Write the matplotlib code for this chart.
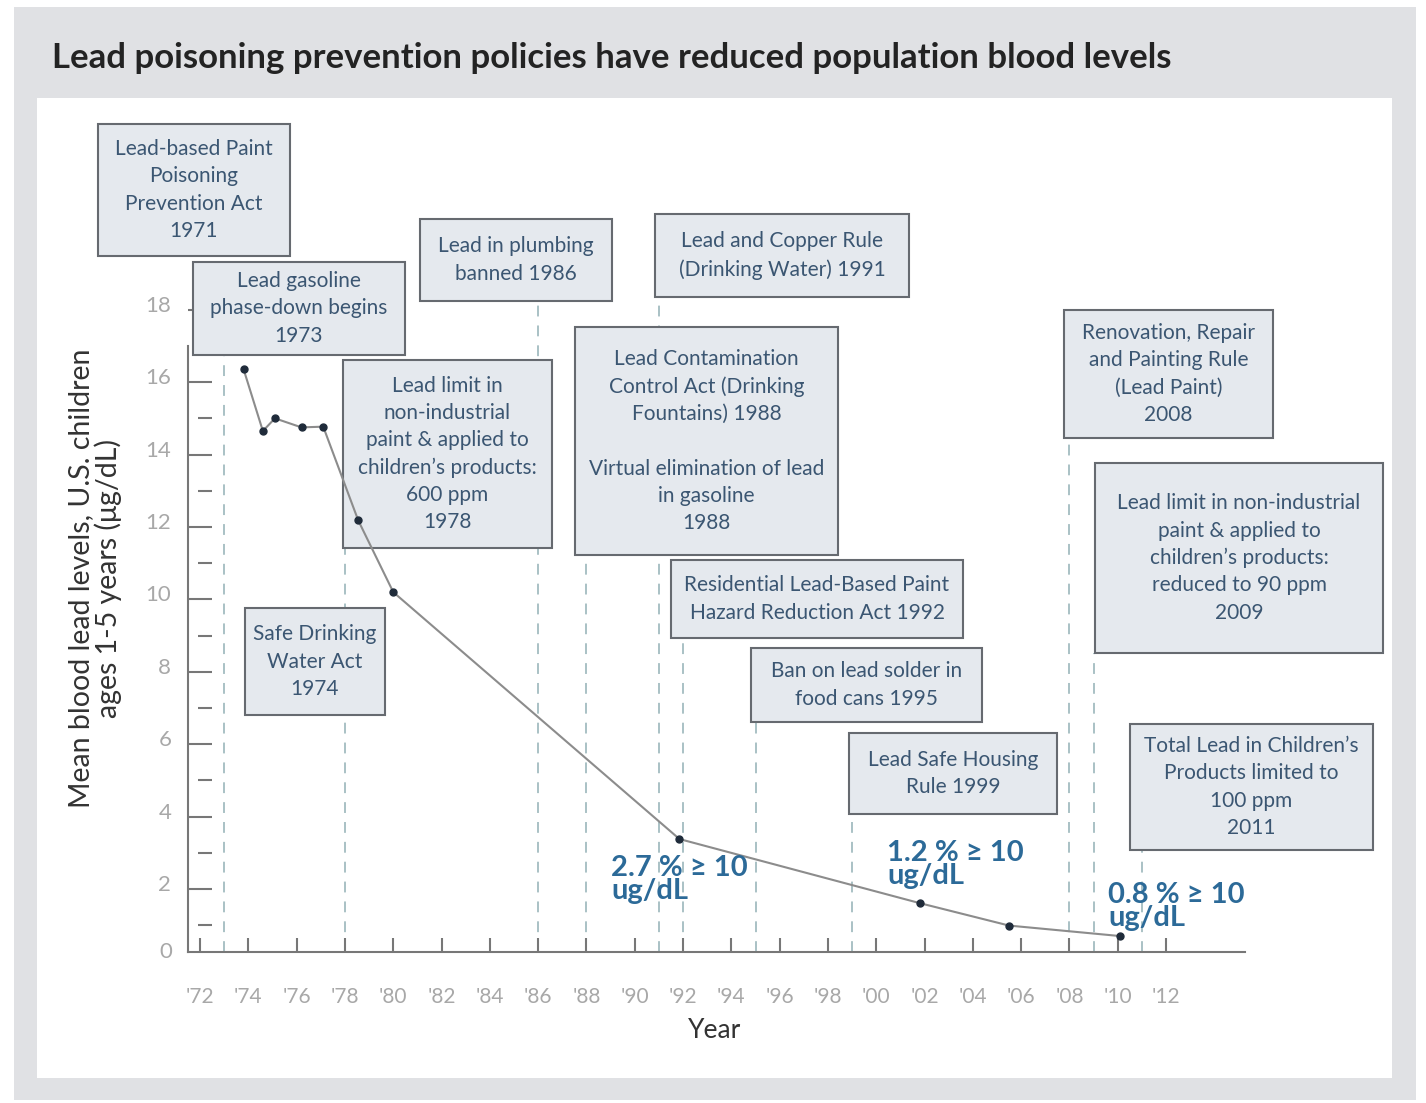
import matplotlib
matplotlib.use('Agg')
import matplotlib.pyplot as plt
from matplotlib.patches import Rectangle
from matplotlib.transforms import ScaledTranslation, blended_transform_factory

W, H = 1426, 1103

# mean blood lead survey points
years = [1973.8, 1974.6, 1975.1, 1976.2, 1977.1, 1978.55, 1980.0, 1991.85, 2001.8, 2005.5, 2010.1]
blood_lead = [16.36, 14.65, 15.0, 14.75, 14.77, 12.18, 10.2, 3.38, 1.61, 0.99, 0.70]

# share of children >= 10 ug/dL
pct_labels = ['2.7 % \u2265 10\nug/dL', '1.2 % \u2265 10\nug/dL', '0.8 % \u2265 10\nug/dL']

policy_text = [
    "Lead-based Paint\nPoisoning\nPrevention Act\n1971",
    "Lead gasoline\nphase-down begins\n1973",
    "Safe Drinking\nWater Act\n1974",
    "Lead limit in\nnon-industrial\npaint & applied to\nchildren\u2019s products:\n600 ppm\n1978",
    "Lead in plumbing\nbanned 1986",
    "Lead Contamination\nControl Act (Drinking\nFountains) 1988\n\nVirtual elimination of lead\nin gasoline\n1988",
    "Lead and Copper Rule\n(Drinking Water) 1991",
    "Residential Lead-Based Paint\nHazard Reduction Act 1992",
    "Ban on lead solder in\nfood cans 1995",
    "Lead Safe Housing\nRule 1999",
    "Renovation, Repair\nand Painting Rule\n(Lead Paint)\n2008",
    "Lead limit in non-industrial\npaint & applied to\nchildren\u2019s products:\nreduced to 90 ppm\n2009",
    "Total Lead in Children\u2019s\nProducts limited to\n100 ppm\n2011",
]
policy_year = [None, 1973, None, 1978, 1986, 1988, 1991, 1992, 1995, 1999, 2008, 2009, 2011]

x_ticks = list(range(1972, 2013, 2))
y_ticks = list(range(2, 19, 2))

# layout, in pixels of the picture (left, top, right, bottom)
box_px = [(98, 124, 290, 256), (193, 262, 405, 355), (245, 608, 385, 715),
          (343, 360, 552, 548), (420, 219, 612, 301), (575, 327, 838, 555),
          (655, 214, 909, 297), (671, 560, 963, 638), (751, 648, 982, 722),
          (849, 733, 1057, 814), (1064, 310, 1273, 438), (1095, 463, 1383, 653),
          (1130, 724, 1373, 850)]
pct_px = [(611, 855), (887, 840), (1108, 882)]

plt.rcParams['font.family'] = ['Lato', 'DejaVu Sans']

fig = plt.figure(figsize=(W / 100, H / 100), dpi=100)
fig.patch.set_facecolor('white')

def fx(x):
    return x / W

def fy(y):
    return 1 - y / H

# grey card and white panel
fig.patches.append(Rectangle((fx(14), fy(1100)), fx(1416 - 14), (1100 - 7) / H,
                             transform=fig.transFigure, facecolor='#e0e1e4',
                             edgecolor='none', zorder=-10))
fig.patches.append(Rectangle((fx(37), fy(1078)), fx(1392 - 37), (1078 - 98) / H,
                             transform=fig.transFigure, facecolor='white',
                             edgecolor='none', zorder=-9))

fig.text(fx(52), fy(58), 'Lead poisoning prevention policies have reduced population blood levels',
         fontsize=25, fontweight='bold', color='#232323', va='center', ha='left')

ax = fig.add_axes([fx(188), fy(952), fx(1245 - 188), (952 - 288) / H])
ax.set_facecolor('none')
ax.set_xlim(1971.5, 2015.27)
ax.set_ylim(0.26, 18.6)

for s in ['top', 'right']:
    ax.spines[s].set_visible(False)
ax.spines['left'].set_bounds(0.26, 17.0)
for s in ['left', 'bottom']:
    ax.spines[s].set_color('#777777')
    ax.spines[s].set_linewidth(1.5)

ax.set_xticks(x_ticks)
ax.set_xticklabels(["'%02d" % (y % 100) for y in x_ticks])
ax.set_yticks(y_ticks)
ax.tick_params(axis='y', direction='in', length=17, width=1.5, color='#777777',
               labelcolor='#a8a8a8', labelsize=16, pad=12)
ax.tick_params(axis='x', direction='in', length=10, width=1.5, color='#777777',
               labelcolor='#a8a8a8', labelsize=15, pad=25)
for lab in ax.get_yticklabels():
    lab.set_transform(lab.get_transform() + ScaledTranslation(0, 6 / 100, fig.dpi_scale_trans))
ax.text(-16 / 1057, 0.26, '0', transform=blended_transform_factory(ax.transAxes, ax.transData),
        ha='right', va='center', fontsize=16, color='#a8a8a8')

# detached minor dashes at odd values
odd = list(range(1, 18, 2))
ax.hlines(odd, 10 / 1057, 24 / 1057, transform=blended_transform_factory(ax.transAxes, ax.transData),
          color='#777777', lw=1.5)

# dashed policy lines from under each box to the axis
inv = ax.transData.inverted()
for yr, (l, t, r, b) in zip(policy_year, box_px):
    if yr is None:
        continue
    top = inv.transform((0, H - b))[1]
    ax.plot([yr, yr], [0.26, top], color='#a3bcc0', lw=1.3, dashes=(6, 5), zorder=1)

# policy boxes sit over the dashed lines but under the data line
for txt, (l, t, r, b) in zip(policy_text, box_px):
    ax.add_patch(Rectangle((fx(l), fy(b)), fx(r - l), (b - t) / H,
                           transform=fig.transFigure, facecolor='#e5e9ee',
                           edgecolor='#666a70', lw=1.5, zorder=2, clip_on=False))
    ax.text(fx((l + r) / 2), fy((t + b) / 2), txt, transform=fig.transFigure,
            ha='center', va='center', fontsize=15, color='#3b5672',
            linespacing=1.45, zorder=2.2, clip_on=False)

ax.plot(years, blood_lead, color='#8c8c8c', lw=1.5, zorder=3, clip_on=False)
ax.plot(years, blood_lead, 'o', color='#1f2b3a', markersize=5, zorder=4, clip_on=False)

for txt, (x, y) in zip(pct_labels, pct_px):
    fig.text(fx(x), fy(y), txt, ha='left', va='top', fontsize=21, fontweight='bold',
             color='#2c6a98', linespacing=0.85, zorder=6)

fig.text(fx(95), fy(578), 'Mean blood lead levels, U.S. children\nages 1-5 years (\u03bcg/dL)',
         rotation=90, ha='center', va='center', fontsize=20.5, color='#333333', linespacing=1.05)
fig.text(fx(715), fy(1030), 'Year', ha='center', va='center', fontsize=19, color='#333333')

fig.savefig('out.png', dpi=100)
